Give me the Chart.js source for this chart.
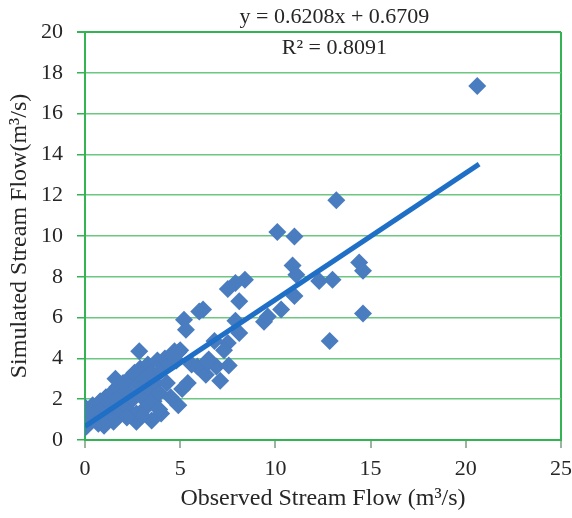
<!DOCTYPE html>
<html>
<head>
<meta charset="utf-8">
<script src="https://cdn.jsdelivr.net/npm/chart.js@4/dist/chart.umd.min.js"></script>
<style>
  html, body { margin: 0; padding: 0; background: #fff; }
  #wrap { width: 572px; height: 518px; }
</style>
</head>
<body>
<div id="wrap"><canvas id="flow-chart" width="572" height="518"></canvas></div>
<script>
// 観測流量 (m3/s)
const observedFlow = [
  20.6, 13.2, 10.1, 11.0, 10.9, 11.1, 11.0, 12.3, 13.0, 14.4,
  14.6, 14.6, 12.85, 10.3, 9.4, 9.6, 8.4, 7.9, 7.5, 8.1,
  7.9, 8.1, 7.5, 7.3, 6.8, 6.5, 6.25, 5.9, 6.9, 7.55,
  7.1, 6.35, 6.2, 6.0, 5.2, 5.3, 5.0, 4.7, 5.4, 5.1,
  4.9, 4.0, 3.5, 2.4, 2.85, 0.0, 0.0, 5.6, 6.4, 2.7,
  0.0, 0.0, 0.1, 0.2, 0.3, 0.4, 0.5, 0.6, 0.7, 0.8,
  0.9, 1.0, 1.1, 1.2, 1.3, 1.4, 1.5, 1.6, 1.7, 1.8,
  1.9, 2.0, 2.1, 2.2, 2.3, 2.5, 2.6, 2.7, 2.8, 2.9,
  3.0, 3.1, 3.2, 3.3, 3.4, 3.5, 3.6, 3.7, 3.8, 3.9,
  4.0, 4.2, 4.3, 4.4, 4.6, 4.8, 4.9, 4.5, 3.0, 2.2,
  1.5, 1.0, 1.6, 3.9
];
// シミュレーション流量 (m3/s)
const simulatedFlow = [
  17.35, 11.75, 10.2, 9.98, 8.55, 8.1, 7.06, 7.8, 7.85, 8.7,
  8.3, 6.2, 4.85, 6.4, 5.8, 6.05, 7.85, 7.7, 7.4, 6.8,
  5.85, 5.25, 4.75, 4.4, 4.85, 3.95, 3.6, 3.6, 3.6, 3.65,
  2.9, 3.2, 6.4, 6.3, 5.9, 5.4, 4.4, 4.35, 2.8, 2.5,
  1.7, 1.3, 0.95, 1.35, 4.35, 1.6, 0.6, 3.7, 3.85, 0.9,
  0.9, 1.2, 0.7, 1.4, 0.9, 1.7, 1.1, 1.4, 0.8, 1.9,
  1.2, 1.6, 2.1, 1.0, 1.8, 2.3, 1.4, 2.0, 2.6, 1.2,
  2.2, 2.8, 1.7, 2.4, 3.0, 2.0, 3.3, 1.3, 2.7, 3.5,
  2.1, 3.0, 1.6, 3.7, 2.5, 3.3, 1.9, 2.8, 3.9, 2.3,
  3.4, 4.0, 2.8, 3.7, 4.2, 3.9, 4.3, 2.1, 1.2, 1.1,
  0.9, 0.7, 3.0, 1.5
];
// 近似直線の両端
const trendX = [0, 20.7];
const trendY = [0.67, 13.52];
const xTicks = [0, 5, 10, 15, 20, 25];
const yTicks = [0, 2, 4, 6, 8, 10, 12, 14, 16, 18, 20];
const equationLines = ['y = 0.6208x + 0.6709', 'R² = 0.8091'];

const serif = "'Liberation Serif', 'Times New Roman', serif";
const gridGreen = '#6cc780';
const borderGreen = '#33b352';
const textColor = '#262626';

// 近似式を描画
const equationLabel = {
    id: 'equationLabel',
    afterDraw(chart) {
        const ctx = chart.ctx;
        const cx = chart.scales.x.getPixelForValue(13.1);
        ctx.save();
        ctx.font = '22px ' + serif;
        ctx.fillStyle = textColor;
        ctx.textAlign = 'center';
        ctx.textBaseline = 'alphabetic';
        ctx.fillText(equationLines[0], cx, 23);
        ctx.fillText(equationLines[1], cx, 54);
        ctx.restore();
    }
};

new Chart(document.getElementById('flow-chart'), {
    type: 'scatter',
    data: {
        datasets: [
            {
                label: 'trend',
                type: 'line',
                data: trendX.map((x, i) => ({ x: x, y: trendY[i] })),
                borderColor: '#1f6fc6',
                borderWidth: 5,
                pointRadius: 0,
                fill: false
            },
            {
                label: 'flow',
                data: observedFlow.map((x, i) => ({ x: x, y: simulatedFlow[i] })),
                pointStyle: 'rectRot',
                pointRadius: 9,
                pointHoverRadius: 9,
                backgroundColor: '#4a7cc0',
                borderColor: '#4a7cc0',
                borderWidth: 0
            }
        ]
    },
    options: {
        responsive: false,
        animation: false,
        layout: { padding: { left: 0, right: 0, top: 32, bottom: 0 } },
        plugins: {
            legend: { display: false },
            tooltip: { enabled: false }
        },
        scales: {
            x: {
                type: 'linear',
                min: 0,
                max: 25,
                afterBuildTicks: s => { s.ticks = xTicks.map(v => ({ value: v })); },
                afterFit: s => { s.height = 78; s.paddingRight = 11; },
                ticks: {
                    font: { family: serif, size: 22 },
                    color: textColor,
                    padding: 8,
                    maxRotation: 0
                },
                grid: {
                    color: c => c.tick && c.tick.value === 25 ? borderGreen : 'transparent',
                    lineWidth: 2,
                    drawTicks: true,
                    tickLength: 8,
                    tickColor: '#9bb5a0'
                },
                border: { display: true, color: borderGreen, width: 2 },
                title: {
                    display: true,
                    text: 'Observed Stream Flow (m³/s)',
                    font: { family: serif, size: 24, lineHeight: 1.2 },
                    color: textColor,
                    padding: { top: 0, bottom: 5 }
                }
            },
            y: {
                min: 0,
                max: 20,
                afterBuildTicks: s => { s.ticks = yTicks.map(v => ({ value: v })); },
                afterFit: s => { s.width = 85; },
                ticks: {
                    font: { family: serif, size: 22 },
                    color: textColor,
                    padding: 14
                },
                grid: {
                    color: c => c.tick && c.tick.value === 20 ? borderGreen : gridGreen,
                    lineWidth: c => c.tick && c.tick.value === 20 ? 2 : 1.5,
                    drawTicks: true,
                    tickLength: 8,
                    tickColor: borderGreen
                },
                border: { display: true, color: borderGreen, width: 2 },
                title: {
                    display: true,
                    text: 'Simulated Stream Flow(m³/s)',
                    font: { family: serif, size: 24, lineHeight: 1.2 },
                    color: textColor,
                    padding: { top: 5, bottom: 0 }
                }
            }
        }
    },
    plugins: [equationLabel]
});
</script>
</body>
</html>
